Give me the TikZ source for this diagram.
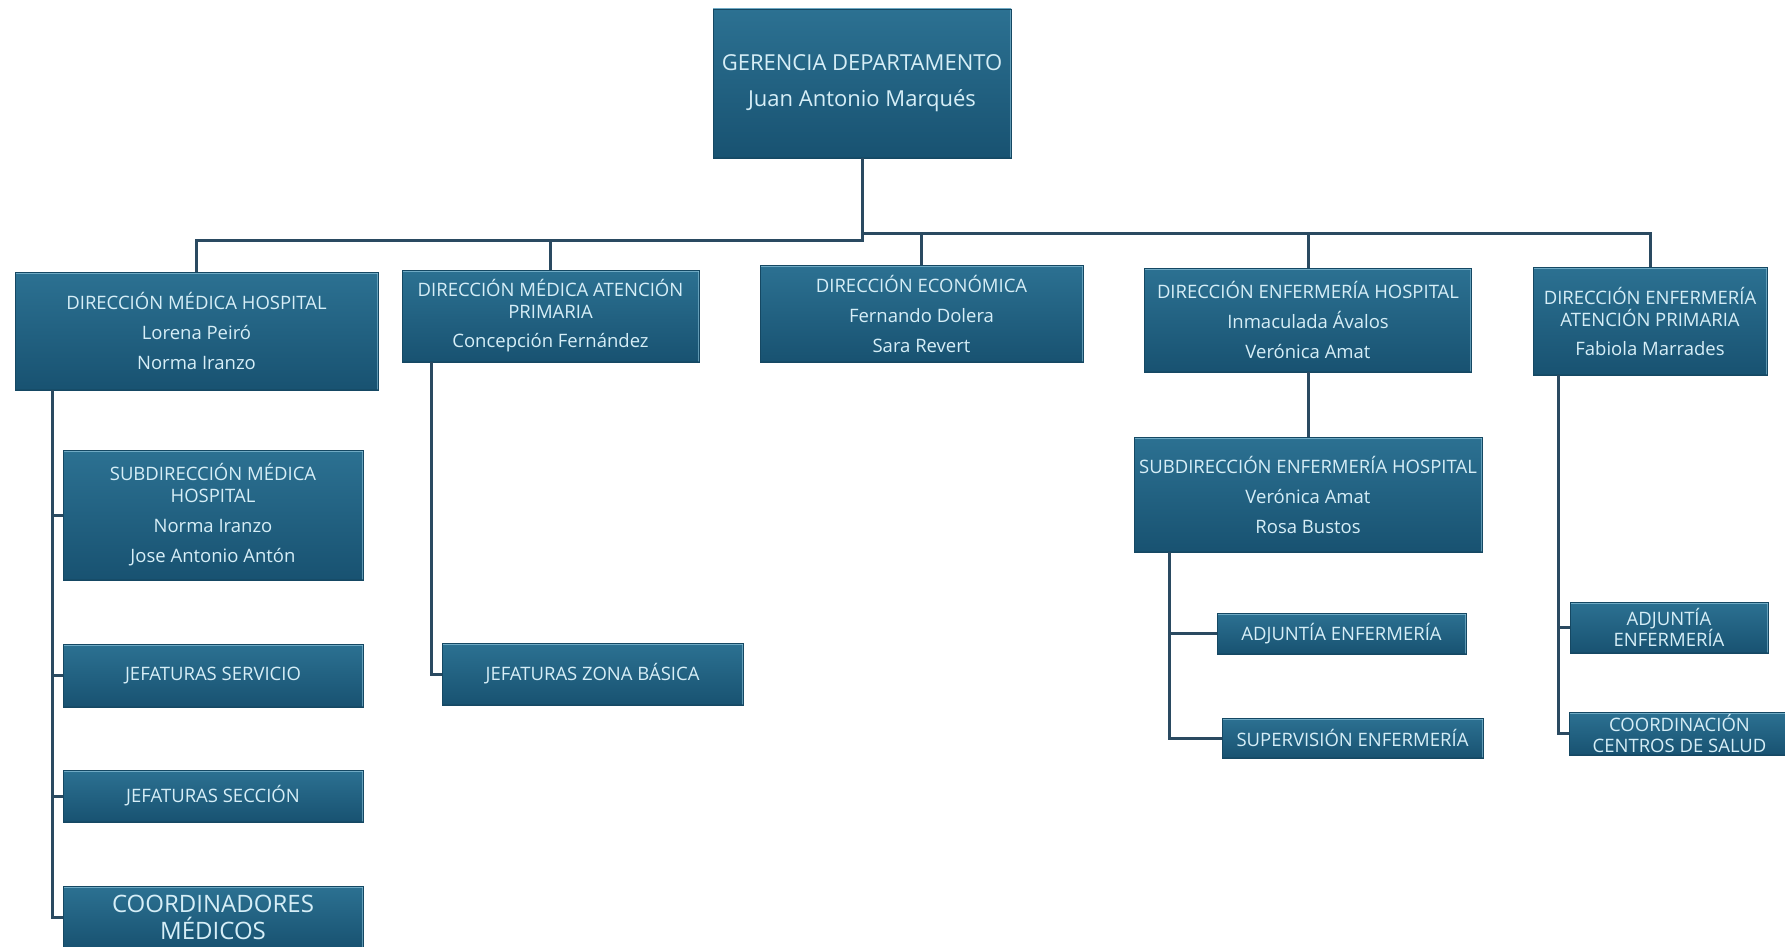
\documentclass[tikz,border=0pt]{standalone}
\usepackage{fontspec}
\setmainfont{Open Sans}
\definecolor{boxtop}{HTML}{2C7192}
\definecolor{boxbot}{HTML}{185271}
\definecolor{boxline}{HTML}{154863}
\definecolor{boxtext}{HTML}{D6EEF7}
\definecolor{hilite}{HTML}{8CC3DA}
\definecolor{connc}{HTML}{2A4A61}
\tikzset{
  orgbox/.style={rectangle, inner sep=0pt, top color=boxtop, bottom color=boxbot,
    draw=boxline, line width=0.8pt, text=boxtext, align=center,
    font=\fontsize{18.5}{22}\selectfont,
    path picture={
      \draw[hilite, line width=3pt, opacity=0.7]
        (path picture bounding box.north west) -- (path picture bounding box.north east);
      \draw[hilite, line width=2.5pt, opacity=0.6]
        (path picture bounding box.north east) -- (path picture bounding box.south east);
      \draw[boxline, line width=2pt, opacity=0.6]
        (path picture bounding box.south west) -- (path picture bounding box.south east);
    }},
  conn/.style={draw=connc, line width=3pt, line join=miter}
}
\begin{document}
\begin{tikzpicture}[x=1pt,y=-1pt]
\useasboundingbox (0,0) rectangle (1785,947);
\clip (0,0) rectangle (1785,947);
\fill[white] (0,0) rectangle (1785,947);

\coordinate (busL) at (862,240);
\coordinate (busR) at (862,233);
\coordinate (dmhv) at (52,390);
\coordinate (dmapv) at (431,362);
\coordinate (sehv) at (1169,552);
\coordinate (deapv) at (1558,375);

% boxes
\node[orgbox, minimum width=298pt, minimum height=149pt, font=\fontsize{22}{27}\selectfont] (top) at (862,83.5)
  {GERENCIA DEPARTAMENTO\\[9pt]Juan Antonio Marqués};
\node[orgbox, minimum width=363pt, minimum height=118pt] (dmh) at (196.5,331)
  {DIRECCIÓN MÉDICA HOSPITAL\\[8pt]Lorena Peiró\\[8pt]Norma Iranzo};
\node[orgbox, minimum width=297pt, minimum height=92pt] (dmap) at (550.5,316)
  {DIRECCIÓN MÉDICA ATENCIÓN\\PRIMARIA\\[7pt]Concepción Fernández};
\node[orgbox, minimum width=323pt, minimum height=97pt] (de) at (921.5,313.5)
  {DIRECCIÓN ECONÓMICA\\[8pt]Fernando Dolera\\[8pt]Sara Revert};
\node[orgbox, minimum width=327pt, minimum height=104pt] (deh) at (1308,320)
  {DIRECCIÓN ENFERMERÍA HOSPITAL\\[8pt]Inmaculada Ávalos\\[8pt]Verónica Amat};
\node[orgbox, minimum width=234pt, minimum height=108pt] (deap) at (1650,321)
  {DIRECCIÓN ENFERMERÍA\\ATENCIÓN PRIMARIA\\[7pt]Fabiola Marrades};

\node[orgbox, minimum width=300pt, minimum height=130pt] (smh) at (213,515)
  {SUBDIRECCIÓN MÉDICA\\HOSPITAL\\[8pt]Norma Iranzo\\[8pt]Jose Antonio Antón};
\node[orgbox, minimum width=300pt, minimum height=63pt] (js) at (213,675.5)
  {JEFATURAS SERVICIO};
\node[orgbox, minimum width=300pt, minimum height=52pt] (jsec) at (213,796)
  {JEFATURAS SECCIÓN};
\node[orgbox, minimum width=300pt, minimum height=62pt, font=\fontsize{24}{27}\selectfont] (cm) at (213,917)
  {COORDINADORES\\MÉDICOS};
\node[orgbox, minimum width=301pt, minimum height=62pt] (jzb) at (592.5,674)
  {JEFATURAS ZONA BÁSICA};
\node[orgbox, minimum width=348pt, minimum height=115pt] (seh) at (1308,494.5)
  {SUBDIRECCIÓN ENFERMERÍA HOSPITAL\\[8pt]Verónica Amat\\[8pt]Rosa Bustos};
\node[orgbox, minimum width=249pt, minimum height=41pt] (ae) at (1341.5,633.5)
  {ADJUNTÍA ENFERMERÍA};
\node[orgbox, minimum width=261pt, minimum height=40pt] (se) at (1352.5,738)
  {SUPERVISIÓN ENFERMERÍA};
\node[orgbox, minimum width=198pt, minimum height=51pt, font=\fontsize{18.5}{21}\selectfont] (ae2) at (1669,627.5)
  {ADJUNTÍA\\ENFERMERÍA};
\node[orgbox, minimum width=221pt, minimum height=43pt, font=\fontsize{18.5}{21}\selectfont] (ccs) at (1679.5,733.5)
  {COORDINACIÓN\\CENTROS DE SALUD};

% connectors
\draw[conn] (top.south) -- (busL);
\draw[conn] (dmh.north) |- (busL) -- (busR) -| (deap.north);
\draw[conn] (dmap.north) -- (dmap.north |- busL);
\draw[conn] (de.north) -- (de.north |- busR);
\draw[conn] (deh.north) -- (deh.north |- busR);
\draw[conn] (deh.south) -- (seh.north);

\draw[conn] (dmhv) |- (cm.west);
\draw[conn] (dmhv |- smh.west) -- (smh.west);
\draw[conn] (dmhv |- js.west) -- (js.west);
\draw[conn] (dmhv |- jsec.west) -- (jsec.west);

\draw[conn] (dmapv) |- (jzb.west);

\draw[conn] (sehv) |- (se.west);
\draw[conn] (sehv |- ae.west) -- (ae.west);

\draw[conn] (deapv) |- (ccs.west);
\draw[conn] (deapv |- ae2.west) -- (ae2.west);
\end{tikzpicture}
\end{document}
